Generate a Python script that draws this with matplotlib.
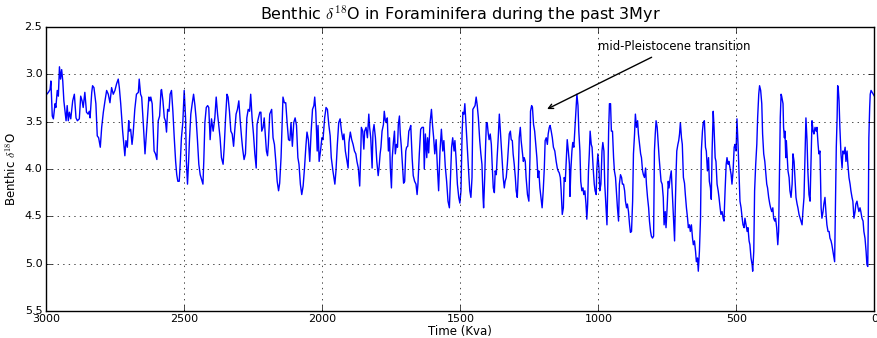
#!/usr/bin/env python3
# Benthic d18O stack over the last 3 Myr, old-style matplotlib look
import numpy as np
import matplotlib
matplotlib.use('Agg')
import matplotlib.pyplot as plt

# age in kyr before present
age_kyr = [
    2999, 2993, 2987, 2984, 2979, 2975, 2969, 2966, 2961, 2957, 2953, 2949, 2945, 2941, 2937,
    2929, 2925, 2921, 2917, 2912, 2905, 2899, 2893, 2888, 2881, 2876, 2871, 2867, 2861, 2855,
    2849, 2845, 2842, 2836, 2833, 2828, 2821, 2816, 2811, 2805, 2800, 2794, 2788, 2782, 2776,
    2770, 2764, 2758, 2752, 2746, 2740, 2736, 2731, 2724, 2719, 2716, 2712, 2707, 2702, 2700,
    2695, 2690, 2686, 2680, 2674, 2667, 2664, 2659, 2655, 2649, 2643,
    2634, 2629, 2625, 2622, 2617, 2613, 2610, 2605, 2600, 2595, 2590, 2585, 2583, 2578, 2573,
    2569, 2565, 2561, 2556, 2552, 2547, 2542, 2537, 2532, 2528, 2524, 2519, 2515, 2511, 2506,
    2501, 2496, 2493, 2489, 2485, 2482, 2477, 2472, 2467, 2462, 2458, 2453, 2448, 2443, 2438,
    2433, 2430, 2426, 2421, 2416, 2412, 2407, 2402, 2396, 2390, 2385, 2380, 2375, 2371, 2366,
    2360, 2356, 2351, 2346, 2342, 2337, 2332, 2327, 2322, 2318, 2313, 2308, 2303, 2298, 2293,
    2289, 2284, 2279, 2274, 2269, 2264, 2260, 2255, 2250, 2245,
    2240, 2237, 2232, 2227, 2223, 2220, 2215, 2211, 2208, 2203, 2199, 2196, 2191, 2187, 2184,
    2179, 2174, 2169, 2164, 2159, 2155, 2150, 2146, 2143, 2138, 2133, 2128, 2123, 2118, 2114,
    2109, 2104, 2099, 2094, 2089, 2085, 2080, 2075, 2070, 2065, 2060, 2056, 2051, 2046, 2041,
    2036, 2031, 2028, 2024, 2019, 2016, 2012, 2007, 2002, 1998, 1992, 1987, 1982, 1977, 1972,
    1968, 1962, 1955, 1951, 1946, 1941, 1936, 1931, 1926, 1922, 1917, 1912, 1907, 1904, 1899,
    1894, 1889, 1884, 1879, 1875, 1870, 1865,
    1861, 1859, 1854, 1850, 1847, 1842, 1837, 1832, 1829, 1825, 1820, 1817, 1813, 1808, 1803,
    1798, 1795, 1791, 1788, 1784, 1779, 1776, 1772, 1768, 1765, 1761, 1757, 1754, 1750, 1747,
    1743, 1739, 1736, 1732, 1728, 1725, 1721, 1718, 1714, 1709, 1706, 1702, 1698, 1695, 1691,
    1687, 1684, 1680, 1675, 1671, 1666, 1661, 1657, 1654, 1649, 1644, 1639, 1634, 1631, 1627,
    1622, 1619, 1615, 1610, 1605, 1601, 1597, 1593, 1588, 1584, 1579, 1574, 1569, 1564, 1560,
    1555, 1550, 1545, 1540, 1535, 1532, 1528, 1523, 1520, 1516, 1511, 1506, 1502, 1498, 1494,
    1491, 1487,
    1484, 1481, 1479, 1474, 1469, 1466, 1462, 1458, 1455, 1451, 1447, 1443, 1439, 1435, 1430,
    1426, 1422, 1418, 1416, 1412, 1409, 1406, 1403, 1399, 1396, 1392, 1388, 1385, 1381, 1377,
    1374, 1370, 1367, 1363, 1359, 1356, 1352, 1348, 1345, 1341, 1338, 1334, 1330, 1327, 1323,
    1319, 1316, 1312, 1309, 1305, 1301, 1298, 1294, 1290, 1287, 1283, 1280, 1276, 1272, 1269,
    1265, 1262, 1257, 1252, 1248, 1246, 1242, 1239, 1235, 1231, 1227, 1223, 1219, 1216, 1212,
    1208, 1204, 1200, 1196, 1193, 1189, 1185, 1182, 1178, 1175, 1171, 1167, 1163, 1158, 1153,
    1149, 1146, 1142, 1138, 1135, 1131, 1127, 1124, 1120, 1117, 1113, 1109, 1105,
    1103, 1100, 1096, 1093, 1089, 1085, 1082, 1078, 1074, 1071, 1067, 1064, 1060, 1056, 1053,
    1049, 1045, 1042, 1039, 1036, 1033, 1030, 1026, 1023, 1019, 1015, 1012, 1008, 1006, 1002,
    998, 995, 991, 987, 984, 980, 977, 973, 969, 966, 963, 960, 956, 953, 949,
    945, 942, 938, 934, 931, 927, 924, 920, 916, 913, 909, 905, 902, 898, 895,
    891, 887, 884, 880, 876, 873, 869, 866, 862, 858, 855, 851, 847, 844, 840,
    837, 833, 829, 826, 822, 818, 815, 811, 808, 804, 800, 797, 794, 791, 787,
    783, 780, 776, 773, 769, 765, 762, 758, 755, 751, 747, 744, 740, 736, 733,
    729, 724,
    721, 718, 716, 712, 709, 706, 703, 699, 696, 692, 688, 685, 681, 677, 674,
    670, 667, 663, 659, 656, 652, 648, 645, 641, 638, 634, 630, 627, 623, 620,
    616, 612, 609, 605, 601, 598, 594, 591, 588, 584, 581, 577, 574, 570, 566,
    563, 559, 556, 552, 548, 545, 541, 537, 534, 530, 527, 523, 519, 516, 512,
    508, 505, 501, 498, 494, 490, 487, 483, 479, 476, 472, 469, 465, 461, 458,
    454, 451, 447, 443, 441, 437, 434, 430, 426, 423, 419, 416, 412, 408, 405,
    401, 397, 394, 390, 387, 383, 379, 376, 372, 368, 365, 361, 358, 354, 350,
    347,
    343, 341, 338, 336, 333, 331, 329, 326, 324, 321, 319, 317, 313, 309, 306,
    302, 298, 295, 291, 288, 284, 280, 277, 273, 269, 266, 262, 259, 255, 251,
    248, 244, 241, 237, 233, 230, 226, 222, 219, 215, 211, 208, 204, 201, 197,
    193, 190, 186, 183, 179, 175, 172, 168, 164, 161, 157, 154, 150, 146, 144,
    140, 138, 135, 133, 131, 128, 125, 121, 117, 114, 110, 106, 103, 99, 96,
    92, 88, 85, 81, 78, 74, 70, 67, 63, 59, 56, 52, 49, 45, 41,
    38, 34, 30, 27, 24, 22, 20, 17, 15, 12, 0,
]

# benthic d18O (permil), same order as age_kyr
d18o = [
    3.21, 3.19, 3.16, 3.07, 3.44, 3.47, 3.31, 3.35, 3.17, 3.23, 2.92, 3.05, 2.95, 3.07, 3.28,
    3.49, 3.33, 3.49, 3.40, 3.47, 3.28, 3.21, 3.46, 3.49, 3.47, 3.23, 3.28, 3.35, 3.19, 3.40,
    3.42, 3.39, 3.46, 3.19, 3.12, 3.14, 3.31, 3.65, 3.67, 3.77, 3.56, 3.40, 3.28, 3.17, 3.21,
    3.30, 3.14, 3.21, 3.17, 3.10, 3.05, 3.14, 3.31, 3.60, 3.77, 3.86, 3.70, 3.77, 3.49, 3.60,
    3.58, 3.74, 3.63, 3.37, 3.21, 3.19, 3.05, 3.21, 3.24, 3.53, 3.84,
    3.46, 3.24, 3.28, 3.24, 3.31, 3.61, 3.81, 3.84, 3.90, 3.49, 3.44, 3.17, 3.16, 3.28, 3.46,
    3.49, 3.61, 3.37, 3.39, 3.21, 3.17, 3.39, 3.67, 3.92, 4.06, 4.13, 4.13, 3.92, 3.67, 3.51,
    3.17, 3.46, 3.92, 4.16, 3.92, 3.70, 3.42, 3.31, 3.21, 3.33, 3.46, 3.69, 3.95, 4.06, 4.11,
    4.16, 3.92, 3.51, 3.35, 3.33, 3.35, 3.69, 3.47, 3.60, 3.46, 3.24, 3.42, 3.56, 3.67, 3.88,
    3.95, 3.77, 3.46, 3.21, 3.24, 3.39, 3.60, 3.63, 3.76, 3.60, 3.42, 3.37, 3.28, 3.49, 3.67,
    3.79, 3.90, 3.84, 3.46, 3.37, 3.39, 3.21, 3.46, 3.63, 3.84,
    3.99, 3.53, 3.46, 3.40, 3.40, 3.60, 3.56, 3.46, 3.60, 3.81, 3.86, 3.74, 3.42, 3.39, 3.37,
    3.67, 3.74, 3.92, 4.13, 4.23, 4.15, 3.88, 3.53, 3.24, 3.30, 3.30, 3.51, 3.69, 3.70, 3.51,
    3.76, 3.51, 3.46, 3.54, 3.88, 3.95, 4.16, 4.27, 4.18, 3.99, 3.76, 3.61, 3.69, 3.92, 3.61,
    3.37, 3.33, 3.24, 3.40, 3.81, 3.54, 3.92, 3.81, 3.67, 3.69, 3.46, 3.35, 3.37, 3.53, 3.65,
    3.88, 4.02, 4.16, 4.02, 3.74, 3.51, 3.47, 3.60, 3.69, 3.63, 3.81, 3.90, 3.99, 3.72, 3.61,
    3.69, 3.74, 3.81, 3.84, 3.92, 3.99, 4.18,
    3.81, 3.56, 3.60, 3.79, 3.60, 3.56, 3.67, 3.42, 3.56, 3.67, 3.99, 3.61, 3.53, 3.67, 3.92,
    4.07, 3.99, 3.84, 3.77, 3.60, 3.53, 3.39, 3.49, 3.51, 3.46, 3.81, 3.67, 3.99, 4.20, 3.88,
    3.72, 3.60, 3.84, 3.74, 3.77, 3.53, 3.44, 3.63, 3.77, 4.00, 4.15, 4.13, 3.81, 3.77, 3.76,
    3.60, 3.58, 3.54, 3.88, 4.07, 4.13, 4.16, 4.27, 4.16, 3.84, 3.58, 3.56, 3.56, 4.00, 3.63,
    3.88, 3.67, 3.83, 3.51, 3.37, 3.54, 3.67, 3.84, 3.69, 3.95, 4.23, 3.81, 3.58, 3.81, 3.70,
    3.97, 4.13, 4.34, 4.41, 3.99, 3.77, 3.67, 3.81, 3.70, 3.88, 4.16, 4.30, 4.36, 4.23, 3.63,
    3.40, 3.42,
    3.31, 3.47, 3.56, 3.84, 4.09, 4.23, 4.30, 4.09, 3.37, 3.35, 3.33, 3.24, 3.33, 3.46, 3.70,
    3.84, 3.95, 4.30, 4.41, 4.09, 3.77, 3.51, 3.51, 3.63, 3.69, 3.63, 3.74, 3.95, 4.20, 4.25,
    4.02, 4.06, 3.88, 3.67, 3.42, 3.56, 3.74, 3.92, 4.09, 4.20, 4.13, 4.09, 3.95, 3.81, 3.63,
    3.60, 3.69, 3.70, 3.84, 3.95, 4.09, 4.23, 4.30, 4.02, 3.67, 3.56, 3.70, 3.81, 3.92, 3.88,
    3.92, 4.09, 4.27, 4.34, 3.88, 3.39, 3.33, 3.35, 3.53, 3.60, 3.74, 3.88, 4.09, 4.02, 4.20,
    4.30, 4.41, 4.23, 3.99, 3.70, 3.67, 3.74, 3.63, 3.56, 3.54, 3.60, 3.67, 3.77, 3.81, 3.92,
    3.99, 4.02, 4.04, 4.09, 4.23, 4.48, 4.41, 4.09, 4.13, 3.95, 3.69, 3.81, 3.95,
    4.29, 4.02, 3.81, 3.72, 3.77, 3.56, 3.42, 3.21, 3.33, 3.60, 3.81, 4.13, 4.23, 4.20, 4.27,
    4.23, 4.37, 4.53, 4.37, 4.02, 3.84, 3.60, 3.74, 3.77, 3.99, 4.16, 4.23, 4.27, 4.02, 3.84,
    3.99, 4.23, 4.16, 3.81, 3.72, 3.81, 4.16, 4.37, 4.59, 4.16, 3.60, 3.31, 3.31, 3.60, 3.60,
    3.88, 4.02, 4.09, 4.27, 4.41, 4.55, 4.16, 4.06, 4.09, 4.16, 4.16, 4.23, 4.34, 4.41, 4.37,
    4.45, 4.59, 4.67, 4.66, 4.34, 3.84, 3.63, 3.42, 3.56, 3.49, 3.63, 3.74, 3.84, 3.88, 4.02,
    4.06, 4.09, 3.99, 4.16, 4.30, 4.41, 4.55, 4.66, 4.71, 4.73, 4.71, 3.81, 3.63, 3.49, 3.56,
    3.74, 3.88, 4.02, 4.13, 4.16, 4.30, 4.59, 4.45, 4.62, 4.41, 4.13, 4.20, 4.09, 4.02, 4.20,
    4.45, 4.76,
    4.34, 3.99, 3.81, 3.74, 3.70, 3.63, 3.51, 3.67, 3.74, 4.09, 4.15, 4.27, 4.41, 4.52, 4.62,
    4.59, 4.66, 4.59, 4.73, 4.80, 4.76, 4.87, 4.98, 4.94, 5.08, 4.87, 4.52, 3.81, 3.60, 3.51,
    3.49, 3.77, 3.81, 4.02, 3.88, 4.13, 4.20, 4.32, 3.81, 3.39, 3.56, 3.88, 3.92, 4.16, 4.23,
    4.30, 4.41, 4.48, 4.45, 4.52, 4.55, 4.23, 3.95, 3.88, 3.95, 3.92, 3.99, 4.06, 4.16, 4.02,
    3.77, 3.74, 3.81, 3.47, 3.74, 4.09, 4.34, 4.41, 4.52, 4.59, 4.62, 4.52, 4.59, 4.66, 4.62,
    4.76, 4.80, 4.94, 5.01, 5.08, 4.87, 4.23, 3.95, 3.74, 3.46, 3.21, 3.12, 3.17, 3.31, 3.63,
    3.84, 3.92, 4.02, 4.16, 4.20, 4.30, 4.37, 4.41, 4.45, 4.41, 4.52, 4.55, 4.52, 4.62, 4.80,
    4.66,
    3.81, 3.46, 3.21, 3.23, 3.28, 3.31, 3.56, 3.67, 3.60, 3.88, 3.70, 3.81, 4.02, 4.09, 4.23,
    4.30, 4.16, 3.84, 3.92, 4.09, 4.30, 4.37, 4.41, 4.48, 4.52, 4.55, 4.59, 4.45, 4.30, 3.81,
    3.46, 3.70, 4.02, 4.27, 4.34, 3.99, 3.49, 3.60, 3.63, 3.56, 3.60, 3.56, 3.74, 3.84, 3.81,
    4.41, 4.52, 4.45, 4.37, 4.30, 4.48, 4.59, 4.66, 4.66, 4.73, 4.76, 4.80, 4.87, 4.94, 4.98,
    4.16, 3.77, 3.46, 3.12, 3.14, 3.28, 3.56, 3.84, 3.99, 3.81, 3.84, 3.77, 3.92, 3.81, 3.95,
    4.09, 4.16, 4.23, 4.30, 4.34, 4.52, 4.45, 4.37, 4.34, 4.41, 4.45, 4.41, 4.45, 4.52, 4.55,
    4.66, 4.73, 4.87, 5.01, 5.03, 4.52, 3.67, 3.35, 3.21, 3.17, 3.23,
]

assert len(age_kyr) == len(d18o), (len(age_kyr), len(d18o))

xticks = [3000, 2500, 2000, 1500, 1000, 500, 0]
yticks = [2.5, 3.0, 3.5, 4.0, 4.5, 5.0, 5.5]

plt.style.use('classic')
plt.rcParams['figure.facecolor'] = 'white'
plt.rcParams['savefig.facecolor'] = 'white'
plt.rcParams['font.size'] = 8
plt.rcParams['xtick.major.pad'] = 2
plt.rcParams['ytick.major.pad'] = 3

fig = plt.figure(figsize=(8.77, 3.38), dpi=100)
ax = fig.add_axes([0.053, 0.080, 0.944, 0.840])

ax.plot(np.array(age_kyr), np.array(d18o), 'b-', lw=1.0)

ax.set_xlim(3000, 0)
ax.set_ylim(5.5, 2.5)
ax.set_xticks(xticks)
ax.set_yticks(yticks)
ax.grid(True)

ax.set_title(r'Benthic $\delta^{18}$O in Foraminifera during the past 3Myr',
             fontsize=11.5)
ax.set_xlabel('Time (Kva)', fontsize=8.5, labelpad=1)
ax.set_ylabel(r'Benthic $\delta^{18}$O', fontsize=8.5, labelpad=4)

ax.annotate('mid-Pleistocene transition', xy=(1195, 3.38), xytext=(1003, 2.74),
            arrowprops=dict(arrowstyle='->', color='k'), fontsize=8.4)

fig.savefig('out.png', dpi=100)
